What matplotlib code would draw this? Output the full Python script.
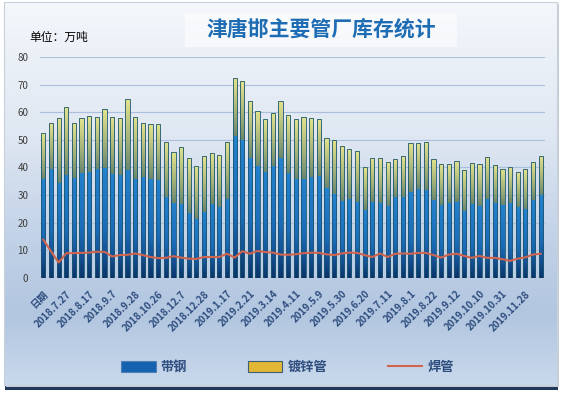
import numpy as np
import matplotlib
matplotlib.use("Agg")
import matplotlib.pyplot as plt
from matplotlib.colors import LinearSegmentedColormap
from matplotlib.patches import Patch, Rectangle
from matplotlib.lines import Line2D

plt.rcParams['font.family'] = ['Noto Sans CJK SC', 'DejaVu Sans']

# tick labels shown every 3rd week
tick_labels = ["日期", "2018.7.27", "2018.8.17", "2018.9.7", "2018.9.28", "2018.10.26",
               "2018.12.7", "2018.12.28", "2019.1.17", "2019.2.21", "2019.3.14",
               "2019.4.11", "2019.5.9", "2019.5.30", "2019.6.20", "2019.7.11",
               "2019.8.1", "2019.8.22", "2019.9.12", "2019.10.10", "2019.10.31",
               "2019.11.28"]

# 带钢 (strip steel)
strip = [35.9, 39.5, 34.2, 37.4, 36.2, 38.1, 38.5, 39.5, 39.9, 37.7,
         37.3, 39.1, 35.9, 36.6, 35.9, 35.5, 29.4, 27.1, 26.7, 23.5,
         21.3, 24.0, 26.7, 25.8, 28.6, 51.5, 49.8, 43.3, 40.7, 38.5,
         40.7, 43.3, 38.1, 35.9, 35.9, 36.6, 37.0, 32.6, 30.4, 27.8,
         28.6, 27.5, 24.6, 27.5, 27.1, 26.0, 29.3, 29.3, 31.1, 32.2,
         31.9, 28.2, 26.4, 27.1, 27.5, 24.2, 26.7, 26.0, 28.6, 27.1,
         26.4, 27.1, 25.8, 24.9, 28.2, 30.0]

# 镀锌管 (galvanized pipe), stacked on strip
galv = [16.6, 16.8, 23.6, 24.5, 20.1, 19.9, 20.3, 18.9, 21.4, 20.7,
        20.7, 25.6, 22.5, 19.7, 19.7, 20.1, 20.0, 18.6, 20.8, 19.8,
        19.3, 20.3, 18.6, 18.8, 20.8, 20.8, 21.4, 20.7, 19.6, 18.9,
        19.2, 20.7, 21.0, 21.5, 22.5, 21.2, 20.4, 18.1, 19.7, 20.0,
        18.2, 18.5, 15.6, 16.0, 16.4, 15.9, 13.9, 14.8, 17.8, 16.7,
        17.3, 15.0, 14.9, 14.2, 14.8, 14.9, 15.0, 15.3, 15.3, 13.9,
        13.1, 12.9, 12.6, 14.4, 13.9, 14.3]

# 焊管 (welded pipe)
welded = [13.8, 9.6, 5.5, 8.9, 8.9, 9.0, 9.1, 9.4, 9.4, 7.7,
          8.2, 8.3, 8.8, 8.2, 7.5, 7.1, 7.2, 7.8, 7.3, 6.9,
          6.8, 7.5, 7.5, 7.5, 8.7, 7.3, 9.6, 8.7, 9.7, 9.3,
          9.1, 8.4, 8.3, 8.5, 8.9, 9.1, 9.0, 8.5, 8.2, 8.8,
          9.1, 9.0, 8.2, 7.5, 8.8, 7.5, 8.7, 8.8, 8.7, 9.0,
          9.0, 8.2, 7.3, 8.4, 8.7, 7.9, 7.2, 7.9, 7.2, 7.2,
          6.7, 6.1, 6.9, 7.4, 8.4, 8.7]

W, H = 564, 396
fig = plt.figure(figsize=(W / 100, H / 100), dpi=100)
fig.patch.set_facecolor('white')

# background panel with gradient and dark shadow at the bottom
bg = fig.add_axes([0, 0, 1, 1], zorder=-5)
bg.add_patch(Rectangle((5, 380), 553, 10, facecolor='#22385a', edgecolor='none', zorder=0))
bg.add_patch(Rectangle((6, 4), 553, 383, facecolor='#c4ccd8', edgecolor='none', zorder=0))
bg_cmap = LinearSegmentedColormap.from_list(
    'bg', [(0, '#f4f7fb'), (0.35, '#dfe7f2'), (0.6, '#c3d3e8'),
           (0.82, '#b2c6e0'), (1.0, '#c9d9ec')])
grad = np.linspace(0, 1, 256).reshape(-1, 1)
bg.imshow(grad, cmap=bg_cmap, extent=(4, 557, 385, 2), aspect='auto', zorder=1)
bg.add_patch(Rectangle((4, 2), 553, 383, facecolor='none', edgecolor='#c8d0dc', lw=0.8, zorder=2))
bg.add_patch(Rectangle((185, 13), 272, 34, facecolor='white', edgecolor='none', alpha=0.5, zorder=2))
bg.text(321, 29, "津唐邯主要管厂库存统计", fontsize=15, color='#1e6cb4',
        ha='center', va='center', fontweight='bold', zorder=3)
bg.text(29, 37, "单位：万吨", fontsize=8.5, color='black', ha='left', va='center', zorder=3)
bg.set_xlim(0, W)
bg.set_ylim(H, 0)
bg.axis('off')

# main chart
ax = fig.add_axes([39.5 / W, 118.3 / H, 505 / W, 220.5 / H])
ax.set_facecolor('none')
x = np.arange(len(strip))
strip_a = np.array(strip)
galv_a = np.array(galv)

bw = 0.55
b1 = ax.bar(x, strip_a, width=bw, color='#1a6fbe', zorder=2, linewidth=0)
b2 = ax.bar(x, galv_a, bottom=strip_a, width=bw, color='#c8c87a', zorder=2, linewidth=0)

blue_cmap = LinearSegmentedColormap.from_list(
    'bl', [(0, '#0a3468'), (0.2, '#134f92'), (0.45, '#1b6cb8'), (1.0, '#2482ce')])
yel_cmap = LinearSegmentedColormap.from_list(
    'yl', [(0, '#6a876c'), (0.45, '#a6b47a'), (1.0, '#e4e48c')])

for bars, cm in ((b1, blue_cmap), (b2, yel_cmap)):
    for p in bars:
        x0, y0 = p.get_x(), p.get_y()
        w, h = p.get_width(), p.get_height()
        im = ax.imshow(grad[::-1], cmap=cm, extent=(x0, x0 + w, y0, y0 + h),
                       aspect='auto', zorder=2.5)
        im.set_clip_path(p)

ax.bar(x, strip_a + galv_a, width=bw, fill=False, edgecolor='#1d5670', linewidth=0.6, zorder=3)
ax.plot(x, welded, color='#d0644e', lw=1.5, zorder=4)

ax.set_xlim(-0.5, len(strip) - 0.5)
ax.set_ylim(0, 80)
ax.set_yticks(range(0, 81, 10))
ax.grid(axis='y', color='#a9bfdb', lw=0.8, zorder=0)
ax.set_axisbelow(True)
for s in ax.spines.values():
    s.set_visible(False)
ax.axhline(0, color='#9fb6d4', lw=0.8, zorder=1)
ax.tick_params(axis='y', length=0, pad=8, labelsize=7, labelcolor='#3c3c3c')
ax.set_xticks(x[::3])
ax.set_xticklabels(tick_labels, rotation=45, ha='right', rotation_mode='anchor',
                   fontsize=7, color='#2e4d7e', fontweight='bold')
ax.tick_params(axis='x', length=0, pad=8)

handles = [Patch(facecolor='#1463b0', edgecolor='#4f7fb4', lw=0.8),
           Patch(facecolor='#e2b734', edgecolor='#3e5e78', lw=0.8),
           Line2D([0], [0], color='#d0644e', lw=1.5)]
fig.legend(handles, ["带钢", "镀锌管", "焊管"], loc='center', bbox_to_anchor=(0.51, 0.073),
           ncol=3, frameon=False, columnspacing=4.6, handlelength=2.6, handleheight=0.8,
           handletextpad=0.4, prop={'size': 9.5, 'weight': 'bold'}, labelcolor='#2e4d7e')

fig.savefig("out.png", dpi=100)
